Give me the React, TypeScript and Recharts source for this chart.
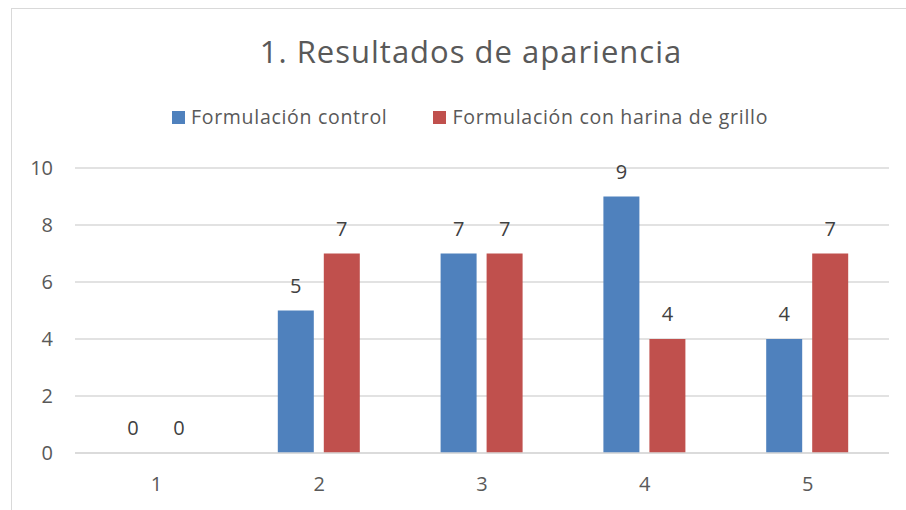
import React from "react";
import { BarChart, Bar, XAxis, YAxis, CartesianGrid, LabelList } from "recharts";

const categories = ["1", "2", "3", "4", "5"];
const controlValues = [0, 5, 7, 9, 4];
const grilloValues = [0, 7, 7, 4, 7];
const yTicks = [0, 2, 4, 6, 8, 10];
const seriesNames = ["Formulación control", "Formulación con harina de grillo"];
const title = "1. Resultados de apariencia";

const data = categories.map((c, i) => ({
  cat: c,
  control: controlValues[i],
  grillo: grilloValues[i],
}));

const FONT = "'Open Sans', 'Noto Sans', sans-serif";
const BLUE = "#4F81BD";
const RED = "#C0504D";

export default function App() {
  return (
    <div style={{ position: "absolute", left: 0, top: 0, width: 906, height: 510, overflow: "hidden", background: "#fff", fontFamily: FONT }}>
      <div style={{ position: "absolute", left: 11, top: 8, width: 920, height: 540, border: "1px solid #d9d9d9", boxSizing: "border-box" }} />
      <div style={{ position: "absolute", left: 0, width: 942, top: 30, textAlign: "center", fontSize: 31, letterSpacing: 1, color: "#595959", lineHeight: "42px" }}>
        {title}
      </div>
      <div style={{ position: "absolute", left: 172, top: 103, display: "flex", alignItems: "center", fontSize: 19.5, letterSpacing: 0.7, color: "#595959", lineHeight: "28px" }}>
        <span style={{ width: 13, height: 13, background: BLUE, display: "inline-block", marginRight: 6 }} />
        <span>{seriesNames[0]}</span>
        <span style={{ width: 13, height: 13, background: RED, display: "inline-block", marginLeft: 46, marginRight: 6 }} />
        <span>{seriesNames[1]}</span>
      </div>
      <div style={{ position: "absolute", left: 0, top: 0 }}>
        <BarChart width={906} height={510} data={data} margin={{ top: 168, right: 17, bottom: 27, left: 0 }} barGap={10} barSize={36}>
          <CartesianGrid vertical={false} stroke="#d9d9d9" strokeWidth={1.3} />
          <XAxis dataKey="cat" height={30} tickLine={false} axisLine={{ stroke: "#d9d9d9", strokeWidth: 1.3 }} tickMargin={18} tick={{ fill: "#595959", fontSize: 20, fontFamily: FONT }} />
          <YAxis width={75} domain={[0, 10]} ticks={yTicks} tickLine={false} axisLine={false} tickMargin={16} tick={{ fill: "#595959", fontSize: 20, fontFamily: FONT }} />
          <Bar dataKey="control" name={seriesNames[0]} fill={BLUE} minPointSize={0.01} isAnimationActive={false}>
            <LabelList dataKey="control" position="top" offset={18} fill="#404040" fontSize={20} fontFamily={FONT} />
          </Bar>
          <Bar dataKey="grillo" name={seriesNames[1]} fill={RED} minPointSize={0.01} isAnimationActive={false}>
            <LabelList dataKey="grillo" position="top" offset={18} fill="#404040" fontSize={20} fontFamily={FONT} />
          </Bar>
        </BarChart>
      </div>
    </div>
  );
}
